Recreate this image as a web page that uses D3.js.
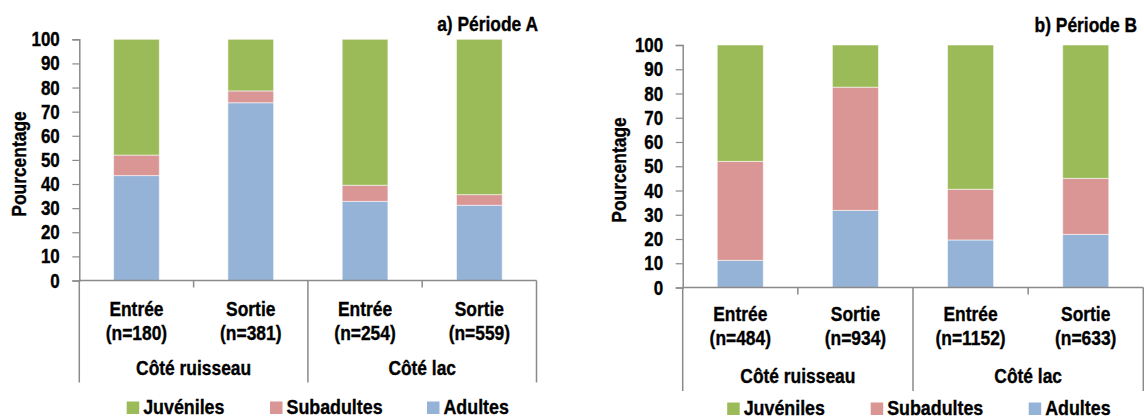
<!DOCTYPE html>
<html>
<head>
<meta charset="utf-8">
<script src="https://cdn.jsdelivr.net/npm/d3@7"></script>
<style>
  html, body { margin: 0; padding: 0; background: #fff; }
  svg { display: block; }
  text { font-family: "Liberation Sans", Arial, sans-serif; font-weight: 700; fill: #000; stroke: #000; stroke-width: 0.35px; }
</style>
</head>
<body>
<svg id="chart" width="1144" height="419"></svg>
<script>
// ---- data ----
const categories = ["Entrée", "Sortie", "Entrée", "Sortie"];
const groups = ["Côté ruisseau", "Côté lac"];
const seriesNames = ["Juvéniles", "Subadultes", "Adultes"];
const yTicks = [0, 10, 20, 30, 40, 50, 60, 70, 80, 90, 100];

const countsA = ["(n=180)", "(n=381)", "(n=254)", "(n=559)"];
const adultesA = [43.5, 73.7, 32.8, 31.2];
const subadultesA = [8.5, 4.9, 6.7, 4.4];
const juvenilesA = [48.0, 21.4, 60.5, 64.4];

const countsB = ["(n=484)", "(n=934)", "(n=1152)", "(n=633)"];
const adultesB = [11.2, 31.8, 19.6, 21.9];
const subadultesB = [40.8, 50.8, 20.9, 23.1];
const juvenilesB = [48.0, 17.4, 59.5, 55.0];

const titleA = "a) Période A";
const titleB = "b) Période B";
const yTitle = "Pourcentage";

const colors = { "Juvéniles": "#9bbb59", "Subadultes": "#d99694", "Adultes": "#95b3d7" };
const axisColor = "#8a8a8a";
const SX = 0.87; // horizontal condensation of the bold sans font

const svg = d3.select("#chart");

function addText(parent, x, y, str, size, anchor, rotate) {
  return parent.append("text")
    .attr("transform", `translate(${x},${y})` + (rotate ? ` rotate(${rotate})` : "") + ` scale(${SX},1)`)
    .attr("text-anchor", anchor || "start")
    .attr("font-size", size)
    .text(str);
}

function drawPanel(cfg) {
  const g = svg.append("g");
  const rows = categories.map((c, i) => ({
    key: i, cat: c, n: cfg.counts[i],
    "Adultes": cfg.adultes[i], "Subadultes": cfg.sub[i], "Juvéniles": cfg.juv[i]
  }));
  const x = d3.scaleBand().domain(d3.range(categories.length))
    .range([cfg.x0, cfg.x1]).paddingInner(0.6).paddingOuter(0.3);
  const y = d3.scaleLinear().domain([0, 100]).range([cfg.y0, cfg.y100]);
  const stack = d3.stack().keys(["Adultes", "Subadultes", "Juvéniles"]);
  const layers = stack(rows);

  g.selectAll("g.layer").data(layers).join("g")
    .attr("class", "layer")
    .attr("fill", d => colors[d.key])
    .selectAll("rect").data(d => d).join("rect")
    .attr("x", d => x(d.data.key))
    .attr("width", x.bandwidth())
    .attr("y", d => y(d[1]))
    .attr("height", d => y(d[0]) - y(d[1]))
    .attr("stroke", "#ffffff").attr("stroke-opacity", 0.55).attr("stroke-width", 1);

  // y axis (line + ticks from d3 axis, labels drawn condensed)
  const yAxis = d3.axisLeft(y).tickValues(yTicks).tickSize(7).tickFormat("");
  const ya = g.append("g").attr("transform", `translate(${cfg.x0},0)`).call(yAxis);
  ya.select(".domain").attr("stroke", axisColor).attr("stroke-width", 1.5);
  ya.selectAll(".tick line").attr("stroke", axisColor).attr("stroke-width", 1.2);
  yTicks.forEach(t => {
    addText(g, cfg.x0 - 19.5, y(t) + 7, String(t), 19.5, "end");
  });

  // x axis baseline
  const step = x.step();
  g.append("line").attr("x1", cfg.x0).attr("x2", cfg.x1).attr("y1", cfg.y0).attr("y2", cfg.y0)
    .attr("stroke", axisColor).attr("stroke-width", 1.5);
  d3.range(categories.length + 1).forEach(i => {
    const xx = cfg.x0 + i * step;
    const isSep = i % 2 === 0;
    g.append("line").attr("x1", xx).attr("x2", xx)
      .attr("y1", cfg.y0).attr("y2", isSep ? cfg.sepBottom : cfg.y0 + 7)
      .attr("stroke", axisColor).attr("stroke-width", 1.5);
  });

  // category labels
  rows.forEach((r, i) => {
    const cx = x(i) + x.bandwidth() / 2;
    addText(g, cx, cfg.catY, r.cat, 20, "middle");
    addText(g, cx, cfg.nY, r.n, 20, "middle");
  });
  groups.forEach((gr, i) => {
    const cx = cfg.x0 + (i * 2 + 1) * step;
    addText(g, cx, cfg.groupY, gr, 20, "middle");
  });

  // title
  addText(g, cfg.titleX, cfg.titleY, cfg.title, 20, "end");

  // y title
  addText(g, cfg.yTitleX, cfg.yTitleY, yTitle, 20, "middle", -90);

  // legend
  seriesNames.forEach((s, i) => {
    const lx = cfg.legendX[i];
    g.append("rect").attr("x", lx).attr("y", cfg.legendY - 12.5).attr("width", 12.5).attr("height", 12.5)
      .attr("fill", colors[s]);
    addText(g, lx + 16.5, cfg.legendY, s, 20.5, "start");
  });
}

drawPanel({
  x0: 79.3, x1: 536.5, y0: 280.5, y100: 39.3, sepBottom: 382.5,
  counts: countsA, adultes: adultesA, sub: subadultesA, juv: juvenilesA,
  catY: 315.5, nY: 339.5, groupY: 375,
  title: titleA, titleX: 538, titleY: 30.5,
  yTitleX: 26, yTitleY: 164,
  legendX: [126.7, 270, 427], legendY: 414
});

drawPanel({
  x0: 682.7, x1: 1143.3, y0: 287.5, y100: 45, sepBottom: 391,
  counts: countsB, adultes: adultesB, sub: subadultesB, juv: juvenilesB,
  catY: 320.5, nY: 344.5, groupY: 382.5,
  title: titleB, titleX: 1137, titleY: 31.7,
  yTitleX: 626, yTitleY: 170,
  legendX: [727.2, 870.7, 1028.7], legendY: 415
});
</script>
</body>
</html>
